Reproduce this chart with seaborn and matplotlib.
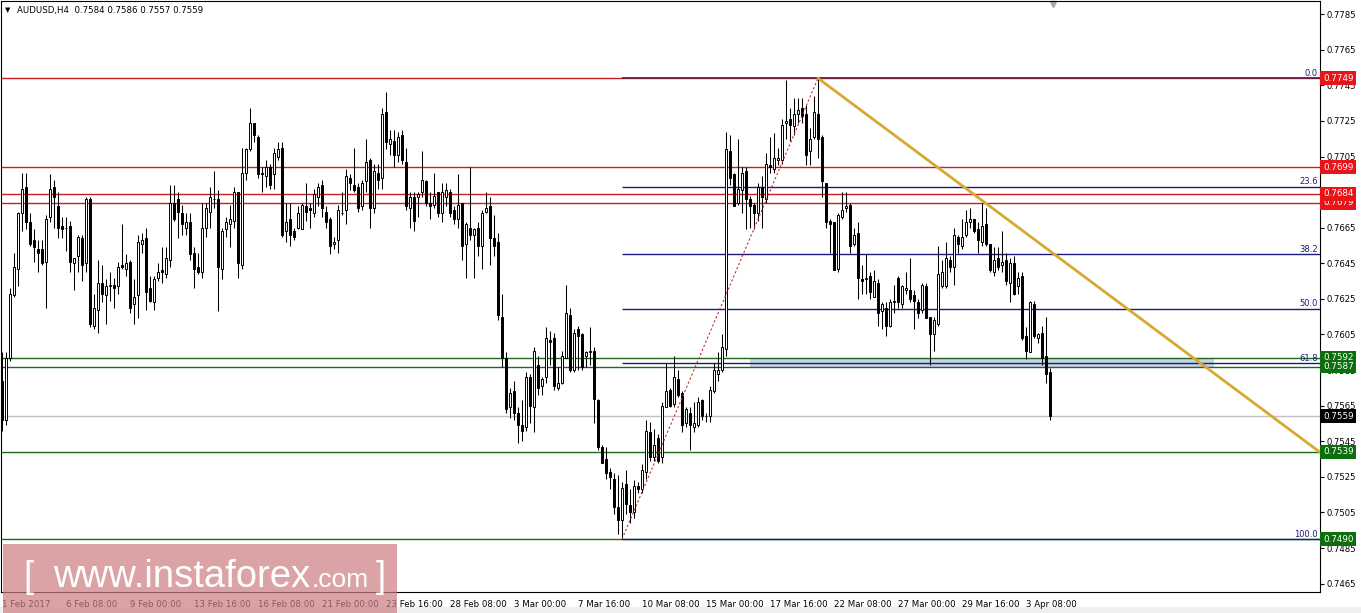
import numpy as np
import pandas as pd
import matplotlib
matplotlib.use("Agg")
import matplotlib.pyplot as plt
import matplotlib.transforms as mtransforms
from matplotlib.patches import Rectangle
import seaborn as sns

# AUDUSD H4 candles (one value per bar)
opens = [
    0.7579, 0.7557, 0.7592, 0.7627, 0.7642, 0.7673, 0.7688, 0.7668, 0.7658, 0.7653,
    0.7653, 0.7646, 0.7671, 0.7688, 0.7677, 0.7666, 0.7665, 0.7666, 0.7645, 0.7649,
    0.7659, 0.7645, 0.7681, 0.7610, 0.7619, 0.7634, 0.7627, 0.7632, 0.7633, 0.7632,
    0.7644, 0.7642, 0.7646, 0.7622, 0.7627, 0.7656, 0.7659, 0.7631, 0.7623, 0.7637,
    0.7641, 0.7639, 0.7647, 0.7679, 0.7681, 0.7673, 0.7665, 0.7668, 0.7651, 0.7643,
    0.7640, 0.7665, 0.7674, 0.7681, 0.7681, 0.7642, 0.7664, 0.7667, 0.7669, 0.7685,
    0.7644, 0.7696, 0.7709, 0.7724, 0.7716, 0.7696, 0.7694, 0.7699, 0.7695, 0.7705,
    0.7710, 0.7663, 0.7670, 0.7663, 0.7665, 0.7664, 0.7677, 0.7676, 0.7673, 0.7682,
    0.7689, 0.7674, 0.7670, 0.7656, 0.7658, 0.7673, 0.7675, 0.7693, 0.7689, 0.7688,
    0.7677, 0.7691, 0.7703, 0.7676, 0.7696, 0.7693, 0.7730, 0.7712, 0.7714, 0.7706,
    0.7717, 0.7702, 0.7676, 0.7682, 0.7682, 0.7685, 0.7691, 0.7679, 0.7678, 0.7685,
    0.7673, 0.7682, 0.7685, 0.7675, 0.7670, 0.7679, 0.7656, 0.7665, 0.7661, 0.7665,
    0.7655, 0.7674, 0.7677, 0.7659, 0.7657, 0.7615, 0.7592, 0.7564, 0.7573, 0.7561,
    0.7554, 0.7553, 0.7581, 0.7564, 0.7588, 0.7576, 0.7581, 0.7602, 0.7603, 0.7575,
    0.7578, 0.7592, 0.7616, 0.7585, 0.7608, 0.7605, 0.7593, 0.7595, 0.7596, 0.7568,
    0.7542, 0.7535, 0.7528, 0.7524, 0.7508, 0.7501, 0.7521, 0.7509, 0.7505, 0.7520,
    0.7518, 0.7528, 0.7550, 0.7536, 0.7547, 0.7536, 0.7564, 0.7574, 0.7566, 0.7580,
    0.7572, 0.7555, 0.7561, 0.7553, 0.7554, 0.7568, 0.7559, 0.7559, 0.7573, 0.7583,
    0.7585, 0.7597, 0.7708, 0.7695, 0.7679, 0.7686, 0.7697, 0.7681, 0.7678, 0.7673,
    0.7688, 0.7681, 0.7700, 0.7698, 0.7703, 0.7703, 0.7724, 0.7726, 0.7722, 0.7729,
    0.7732, 0.7729, 0.7708, 0.7716, 0.7729, 0.7716, 0.7690, 0.7669, 0.7668, 0.7642,
    0.7671, 0.7676, 0.7678, 0.7656, 0.7662, 0.7636, 0.7636, 0.7638, 0.7626, 0.7634,
    0.7618, 0.7620, 0.7610, 0.7623, 0.7637, 0.7622, 0.7630, 0.7630, 0.7627, 0.7623,
    0.7619, 0.7632, 0.7615, 0.7605, 0.7611, 0.7632, 0.7632, 0.7647, 0.7643, 0.7660,
    0.7655, 0.7661, 0.7668, 0.7670, 0.7664, 0.7657, 0.7667, 0.7656, 0.7640, 0.7648,
    0.7644, 0.7647, 0.7634, 0.7645, 0.7632, 0.7638, 0.7604, 0.7595, 0.7622, 0.7603,
    0.7606, 0.7593, 0.7584,
]
highs = [
    0.7595, 0.7595, 0.7631, 0.7651, 0.7674, 0.7696, 0.7696, 0.7673, 0.7664, 0.7658,
    0.7658, 0.7672, 0.7695, 0.7692, 0.7685, 0.7671, 0.7671, 0.7669, 0.7648, 0.7661,
    0.7661, 0.7682, 0.7682, 0.7628, 0.7647, 0.7644, 0.7636, 0.7640, 0.7637, 0.7646,
    0.7667, 0.7650, 0.7647, 0.7636, 0.7661, 0.7662, 0.7665, 0.7638, 0.7638, 0.7645,
    0.7654, 0.7654, 0.7689, 0.7689, 0.7685, 0.7678, 0.7673, 0.7673, 0.7654, 0.7651,
    0.7679, 0.7679, 0.7688, 0.7697, 0.7686, 0.7665, 0.7671, 0.7678, 0.7688, 0.7685,
    0.7710, 0.7710, 0.7732, 0.7724, 0.7717, 0.7699, 0.7703, 0.7701, 0.7710, 0.7713,
    0.7713, 0.7679, 0.7679, 0.7665, 0.7677, 0.7679, 0.7690, 0.7679, 0.7687, 0.7690,
    0.7692, 0.7677, 0.7671, 0.7660, 0.7678, 0.7685, 0.7698, 0.7695, 0.7710, 0.7690,
    0.7692, 0.7715, 0.7704, 0.7701, 0.7701, 0.7732, 0.7741, 0.7720, 0.7720, 0.7719,
    0.7720, 0.7710, 0.7685, 0.7685, 0.7685, 0.7708, 0.7692, 0.7685, 0.7696, 0.7685,
    0.7690, 0.7690, 0.7687, 0.7677, 0.7695, 0.7679, 0.7668, 0.7699, 0.7665, 0.7668,
    0.7675, 0.7685, 0.7682, 0.7672, 0.7662, 0.7628, 0.7595, 0.7575, 0.7579, 0.7564,
    0.7568, 0.7584, 0.7583, 0.7598, 0.7593, 0.7581, 0.7609, 0.7607, 0.7606, 0.7587,
    0.7596, 0.7633, 0.7620, 0.7608, 0.7610, 0.7606, 0.7596, 0.7609, 0.7598, 0.7569,
    0.7543, 0.7542, 0.7530, 0.7527, 0.7526, 0.7522, 0.7529, 0.7518, 0.7523, 0.7522,
    0.7532, 0.7557, 0.7556, 0.7552, 0.7549, 0.7567, 0.7589, 0.7575, 0.7593, 0.7585,
    0.7573, 0.7564, 0.7564, 0.7567, 0.7570, 0.7569, 0.7561, 0.7576, 0.7589, 0.7595,
    0.7605, 0.7719, 0.7717, 0.7696, 0.7715, 0.7699, 0.7699, 0.7683, 0.7679, 0.7690,
    0.7694, 0.7707, 0.7716, 0.7718, 0.7710, 0.7726, 0.7748, 0.7732, 0.7738, 0.7738,
    0.7738, 0.7734, 0.7721, 0.7739, 0.7749, 0.7717, 0.7690, 0.7670, 0.7668, 0.7673,
    0.7685, 0.7685, 0.7679, 0.7665, 0.7668, 0.7644, 0.7650, 0.7640, 0.7641, 0.7636,
    0.7623, 0.7623, 0.7625, 0.7633, 0.7638, 0.7633, 0.7640, 0.7648, 0.7630, 0.7625,
    0.7634, 0.7634, 0.7615, 0.7615, 0.7655, 0.7647, 0.7657, 0.7649, 0.7665, 0.7661,
    0.7670, 0.7675, 0.7676, 0.7670, 0.7668, 0.7679, 0.7676, 0.7656, 0.7654, 0.7654,
    0.7663, 0.7651, 0.7648, 0.7649, 0.7640, 0.7640, 0.7609, 0.7624, 0.7624, 0.7606,
    0.7610, 0.7615, 0.7586,
]
lows = [
    0.7551, 0.7554, 0.7590, 0.7626, 0.7632, 0.7663, 0.7664, 0.7655, 0.7646, 0.7640,
    0.7644, 0.7620, 0.7668, 0.7665, 0.7659, 0.7659, 0.7652, 0.7640, 0.7630, 0.7640,
    0.7635, 0.7640, 0.7609, 0.7608, 0.7606, 0.7623, 0.7611, 0.7624, 0.7620, 0.7628,
    0.7642, 0.7638, 0.7617, 0.7611, 0.7614, 0.7651, 0.7619, 0.7623, 0.7619, 0.7635,
    0.7634, 0.7637, 0.7643, 0.7669, 0.7659, 0.7661, 0.7661, 0.7647, 0.7631, 0.7639,
    0.7637, 0.7660, 0.7665, 0.7676, 0.7618, 0.7636, 0.7660, 0.7654, 0.7665, 0.7637,
    0.7642, 0.7692, 0.7708, 0.7713, 0.7693, 0.7685, 0.7688, 0.7687, 0.7687, 0.7703,
    0.7660, 0.7657, 0.7655, 0.7658, 0.7664, 0.7664, 0.7669, 0.7665, 0.7671, 0.7677,
    0.7671, 0.7665, 0.7650, 0.7653, 0.7651, 0.7672, 0.7667, 0.7686, 0.7685, 0.7674,
    0.7675, 0.7685, 0.7665, 0.7673, 0.7687, 0.7687, 0.7709, 0.7706, 0.7699, 0.7702,
    0.7701, 0.7675, 0.7665, 0.7663, 0.7671, 0.7682, 0.7677, 0.7670, 0.7676, 0.7671,
    0.7668, 0.7677, 0.7671, 0.7667, 0.7665, 0.7647, 0.7637, 0.7658, 0.7637, 0.7649,
    0.7642, 0.7673, 0.7644, 0.7649, 0.7613, 0.7587, 0.7561, 0.7558, 0.7557, 0.7544,
    0.7545, 0.7551, 0.7555, 0.7550, 0.7571, 0.7571, 0.7578, 0.7588, 0.7574, 0.7574,
    0.7577, 0.7592, 0.7584, 0.7584, 0.7585, 0.7585, 0.7587, 0.7588, 0.7555, 0.7540,
    0.7533, 0.7524, 0.7518, 0.7504, 0.7493, 0.7490, 0.7504, 0.7499, 0.7502, 0.7516,
    0.7516, 0.7524, 0.7534, 0.7534, 0.7533, 0.7533, 0.7564, 0.7564, 0.7564, 0.7570,
    0.7550, 0.7553, 0.7540, 0.7550, 0.7553, 0.7557, 0.7556, 0.7556, 0.7572, 0.7579,
    0.7584, 0.7593, 0.7689, 0.7677, 0.7678, 0.7673, 0.7664, 0.7665, 0.7664, 0.7669,
    0.7665, 0.7679, 0.7696, 0.7696, 0.7700, 0.7701, 0.7715, 0.7714, 0.7717, 0.7724,
    0.7724, 0.7700, 0.7700, 0.7715, 0.7704, 0.7682, 0.7665, 0.7651, 0.7641, 0.7640,
    0.7670, 0.7674, 0.7651, 0.7655, 0.7625, 0.7628, 0.7628, 0.7625, 0.7626, 0.7610,
    0.7608, 0.7604, 0.7609, 0.7617, 0.7620, 0.7620, 0.7628, 0.7623, 0.7608, 0.7614,
    0.7617, 0.7614, 0.7588, 0.7596, 0.7610, 0.7631, 0.7631, 0.7640, 0.7633, 0.7651,
    0.7653, 0.7660, 0.7665, 0.7662, 0.7651, 0.7655, 0.7655, 0.7640, 0.7638, 0.7641,
    0.7640, 0.7633, 0.7623, 0.7627, 0.7628, 0.7602, 0.7591, 0.7595, 0.7603, 0.7600,
    0.7588, 0.7578, 0.7557,
]
closes = [
    0.7557, 0.7592, 0.7628, 0.7643, 0.7673, 0.7687, 0.7668, 0.7656, 0.7654, 0.7651,
    0.7645, 0.7670, 0.7687, 0.7682, 0.7665, 0.7664, 0.7665, 0.7646, 0.7648, 0.7660,
    0.7644, 0.7681, 0.7611, 0.7620, 0.7634, 0.7628, 0.7632, 0.7633, 0.7631, 0.7643,
    0.7643, 0.7645, 0.7620, 0.7626, 0.7657, 0.7658, 0.7629, 0.7624, 0.7636, 0.7640,
    0.7640, 0.7648, 0.7679, 0.7670, 0.7674, 0.7667, 0.7668, 0.7650, 0.7642, 0.7640,
    0.7665, 0.7676, 0.7682, 0.7681, 0.7643, 0.7663, 0.7668, 0.7670, 0.7685, 0.7645,
    0.7696, 0.7709, 0.7724, 0.7717, 0.7695, 0.7695, 0.7699, 0.7689, 0.7707, 0.7709,
    0.7661, 0.7668, 0.7661, 0.7660, 0.7673, 0.7678, 0.7674, 0.7675, 0.7684, 0.7688,
    0.7676, 0.7668, 0.7655, 0.7657, 0.7675, 0.7673, 0.7694, 0.7690, 0.7686, 0.7676,
    0.7690, 0.7702, 0.7676, 0.7697, 0.7692, 0.7729, 0.7713, 0.7715, 0.7706, 0.7716,
    0.7703, 0.7677, 0.7682, 0.7669, 0.7684, 0.7692, 0.7679, 0.7677, 0.7683, 0.7673,
    0.7685, 0.7686, 0.7673, 0.7670, 0.7678, 0.7655, 0.7667, 0.7661, 0.7664, 0.7655,
    0.7673, 0.7676, 0.7659, 0.7655, 0.7616, 0.7592, 0.7563, 0.7572, 0.7561, 0.7554,
    0.7551, 0.7581, 0.7565, 0.7596, 0.7575, 0.7580, 0.7603, 0.7601, 0.7576, 0.7578,
    0.7593, 0.7617, 0.7585, 0.7606, 0.7604, 0.7587, 0.7595, 0.7596, 0.7569, 0.7542,
    0.7533, 0.7527, 0.7525, 0.7508, 0.7501, 0.7519, 0.7510, 0.7505, 0.7520, 0.7518,
    0.7529, 0.7551, 0.7536, 0.7543, 0.7534, 0.7565, 0.7573, 0.7565, 0.7581, 0.7571,
    0.7554, 0.7563, 0.7554, 0.7555, 0.7567, 0.7559, 0.7559, 0.7574, 0.7585, 0.7585,
    0.7598, 0.7709, 0.7693, 0.7677, 0.7687, 0.7696, 0.7681, 0.7677, 0.7673, 0.7688,
    0.7682, 0.7701, 0.7699, 0.7704, 0.7704, 0.7723, 0.7725, 0.7723, 0.7729, 0.7731,
    0.7728, 0.7706, 0.7715, 0.7730, 0.7715, 0.7691, 0.7668, 0.7667, 0.7641, 0.7672,
    0.7675, 0.7677, 0.7655, 0.7661, 0.7637, 0.7635, 0.7637, 0.7629, 0.7635, 0.7617,
    0.7622, 0.7610, 0.7623, 0.7624, 0.7623, 0.7632, 0.7631, 0.7625, 0.7624, 0.7617,
    0.7633, 0.7614, 0.7605, 0.7613, 0.7639, 0.7640, 0.7648, 0.7643, 0.7661, 0.7656,
    0.7660, 0.7668, 0.7670, 0.7663, 0.7658, 0.7666, 0.7656, 0.7641, 0.7647, 0.7643,
    0.7646, 0.7635, 0.7645, 0.7628, 0.7637, 0.7603, 0.7596, 0.7623, 0.7604, 0.7605,
    0.7592, 0.7583, 0.7559,
]

date_labels = ['1 Feb 2017', '6 Feb 08:00', '9 Feb 00:00', '13 Feb 16:00', '16 Feb 08:00',
               '21 Feb 00:00', '23 Feb 16:00', '28 Feb 08:00', '3 Mar 00:00', '7 Mar 16:00',
               '10 Mar 08:00', '15 Mar 00:00', '17 Mar 16:00', '22 Mar 08:00', '27 Mar 00:00',
               '29 Mar 16:00', '3 Apr 08:00']
label_step = 16  # bars between date labels

price_ticks = [0.7465, 0.7485, 0.7505, 0.7525, 0.7545, 0.7565, 0.7585, 0.7605, 0.7625,
               0.7645, 0.7665, 0.7685, 0.7705, 0.7725, 0.7745, 0.7765, 0.7785]

resistance = [0.7749, 0.7699, 0.7679, 0.7684]
support = [0.7592, 0.7587, 0.7539, 0.7490]
bid = 0.7559

fib_levels = [0.0, 23.6, 38.2, 50.0, 61.8, 100.0]
fib_bars = [155, 204]          # swing low bar, swing high bar
fib_prices = [0.7490, 0.7749]

trend_bars = [204, 330]
trend_prices = [0.7749, 0.7538]

zone_bars = [187, 303]
zone_prices = [0.7587, 0.7592]

# ---- figure ----
sns.set_style("white")
plt.rcParams['font.family'] = ['DejaVu Sans']

W, H = 1361, 613
fig = plt.figure(figsize=(W / 100, H / 100), dpi=100)
ax = fig.add_axes([1 / W, 21 / H, 1319 / W, 591 / H])

df = pd.DataFrame({"open": opens, "high": highs, "low": lows, "close": closes})
df["bar"] = np.arange(len(df))
up = df["close"] >= df["open"]

# level lines
ax.add_patch(Rectangle((zone_bars[0], zone_prices[0]), zone_bars[1] - zone_bars[0],
                       zone_prices[1] - zone_prices[0], fc="#c8d2e8", ec="none", zorder=1))
for p in resistance:
    ax.axhline(p, color="#c82020", lw=1, zorder=2)
for p in support:
    ax.axhline(p, color="#1b6b1b", lw=1, zorder=2)
ax.axhline(bid, color="#c0c0c0", lw=1, zorder=2)

# fibonacci retracement
blend = mtransforms.blended_transform_factory(ax.transAxes, ax.transData)
fib_low, fib_high = fib_prices[0], fib_prices[1]
x_right = 329.5
for lv in fib_levels:
    price = fib_high - (fib_high - fib_low) * lv / 100
    col = "#5a1848" if lv == 0 else "#1c1c78"
    ax.hlines(price, fib_bars[0], x_right, color=col, lw=1.2 if lv == 0 else 1, zorder=2.5)
    ax.text(0.9985, price + 0.00003, f"{lv:.1f}", transform=blend, ha="right", va="bottom",
            fontsize=6, color="#1c1c78", zorder=6)
ax.plot(fib_bars, fib_prices, color="#c03030", lw=0.8, linestyle=(0, (2, 2)), zorder=5)

# candles
ax.vlines(df["bar"], df["low"], df["high"], color="black", lw=0.75, zorder=3)
ax.bar(df["bar"], (df["close"] - df["open"]).abs(), bottom=df[["open", "close"]].min(axis=1),
       width=0.55, color=np.where(up, "white", "black"), edgecolor="black", linewidth=0.7, zorder=4)

# trend line
sns.lineplot(x=trend_bars, y=trend_prices, ax=ax, color="#d8a830", linewidth=2, zorder=5)

ax.set_xlim(-0.25, x_right)
ax.set_ylim(0.74603, 0.77924)

# axes styling
for s in ax.spines.values():
    s.set_color("black")
    s.set_linewidth(0.8)
ax.yaxis.tick_right()
ax.set_yticks(price_ticks)
ax.set_yticklabels([f"{p:.4f}" for p in price_ticks])
ax.set_xticks(range(0, label_step * len(date_labels), label_step))
ax.set_xticklabels(date_labels, ha="left")
ax.tick_params(axis="y", direction="out", length=3, width=0.8, pad=2, labelsize=6.1, colors="black")
ax.tick_params(axis="x", direction="out", length=4, width=0.8, pad=2, labelsize=6.2, colors="black")
ax.set_xlabel("")
ax.set_ylabel("")

# price tags on the right
def price_tag(p, fc):
    ax.text(1.0022, p, f"{p:.4f}", transform=blend, ha="left", va="center", fontsize=6.3,
            color="white", clip_on=False, zorder=7,
            bbox=dict(boxstyle="square,pad=0.28", fc=fc, ec="none"))

for p in resistance:
    price_tag(p, "#e8141a")
for p in support:
    price_tag(p, "#0d6e0d")
price_tag(bid, "black")

# chart shift marker
ax.plot([len(df) - 0.3], [0.995], marker="v", color="#a8a8a8", ms=4,
        transform=mtransforms.blended_transform_factory(ax.transData, ax.transAxes), clip_on=False)

# header
fig.text(5 / W, 1 - 10 / H, "▼", fontsize=5, va="center", color="black")
fig.text(17 / W, 1 - 10 / H,
         f"AUDUSD,H4  {opens[-1]:.4f} {highs[-1]:.4f} {lows[-1]:.4f} {closes[-1]:.4f}",
         fontsize=6.2, va="center", color="black")

# bottom strip and watermark
fig.add_artist(Rectangle((0, 0), 1, 6 / H, transform=fig.transFigure, fc="#f0f0f0", ec="none", zorder=0))
fig.add_artist(Rectangle((3 / W, 0), 394 / W, 69 / H, transform=fig.transFigure,
                         fc="#cc7d80", ec="none", alpha=0.7, zorder=10))
base = (H - 587) / H
wm = dict(color="white", family="Liberation Sans", va="baseline", zorder=11)
fig.text(23 / W, base, "[", fontsize=26, **wm)
site = fig.text(53 / W, base, "www.instaforex", fontsize=27.5, **wm)
fig.canvas.draw()
site_right = site.get_window_extent().x1
com = fig.text((site_right + 1) / W, base, ".com", fontsize=19, **wm)
fig.canvas.draw()
com_right = com.get_window_extent().x1
fig.text((com_right + 7) / W, base, "]", fontsize=26, **wm)

fig.savefig("out.png", dpi=100, facecolor="white")
